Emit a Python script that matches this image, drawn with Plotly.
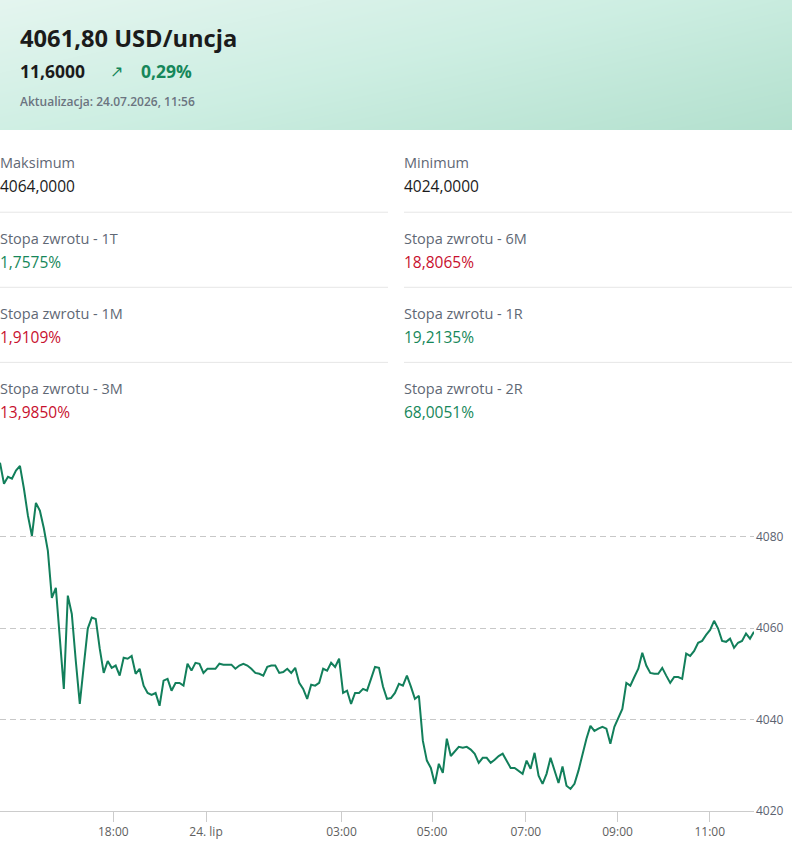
import plotly.graph_objects as go

W, H = 792, 865
SY = 1.0104  # the photographed page comes out ~1% shorter; compensate

# ── quote header ───────────────────────────────────────────────────────────
quote_price = "4061,80 USD/uncja"
quote_change = "11,6000"
quote_change_pct = "0,29%"
quote_updated = "Aktualizacja: 24.07.2026, 11:56"

# ── stats (label, value, colour key) ───────────────────────────────────────
stats_left = [
    ("Maksimum", "4064,0000", "plain"),
    ("Stopa zwrotu - 1T", "1,7575%", "up"),
    ("Stopa zwrotu - 1M", "1,9109%", "down"),
    ("Stopa zwrotu - 3M", "13,9850%", "down"),
]
stats_right = [
    ("Minimum", "4024,0000", "plain"),
    ("Stopa zwrotu - 6M", "18,8065%", "down"),
    ("Stopa zwrotu - 1R", "19,2135%", "up"),
    ("Stopa zwrotu - 2R", "68,0051%", "up"),
]

# ── intraday price, one value per sample (ordinal axis) ────────────────────
price = [
    4096.2, 4091.6, 4093.1, 4092.7, 4094.5, 4095.5, 4090.5, 4084.6, 4080.2, 4087.4,
    4085.7, 4081.8, 4076.9, 4066.6, 4068.8, 4057.7, 4046.7, 4067.1, 4063.1, 4052.8,
    4043.4, 4051.8, 4059.9, 4062.3, 4062.0, 4055.5, 4050.2, 4052.8, 4051.3, 4051.8,
    4049.6, 4053.5, 4053.3, 4053.9, 4050.0, 4051.1, 4047.4, 4045.8, 4045.4, 4045.8,
    4043.0, 4048.5, 4048.9, 4046.3, 4048.0, 4048.0, 4047.4, 4052.2, 4050.7, 4052.4,
    4052.2, 4050.2, 4051.1, 4051.1, 4051.1, 4052.2, 4052.0, 4052.0, 4052.0, 4051.1,
    4051.8, 4052.2, 4051.8, 4051.1, 4050.2, 4050.0, 4049.6, 4051.5, 4051.8, 4051.8,
    4050.2, 4050.4, 4051.1, 4050.2, 4051.3, 4048.0, 4046.7, 4044.5, 4047.6, 4047.4,
    4048.0, 4051.1, 4050.7, 4052.4, 4051.5, 4053.3, 4045.8, 4046.3, 4043.4, 4045.8,
    4045.8, 4046.7, 4046.3, 4048.9, 4051.5, 4051.3, 4047.2, 4044.5, 4044.7, 4045.8,
    4047.8, 4047.4, 4049.6, 4047.2, 4044.5, 4045.2, 4035.3, 4031.0, 4029.4, 4025.9,
    4030.3, 4028.3, 4035.8, 4032.0, 4033.1, 4034.0, 4033.8, 4034.0, 4033.4, 4032.5,
    4030.5, 4031.6, 4031.6, 4030.5, 4031.2, 4032.0, 4032.5, 4031.0, 4029.4, 4029.4,
    4028.8, 4028.1, 4031.0, 4029.2, 4032.7, 4027.7, 4025.9, 4028.1, 4031.6, 4028.8,
    4026.1, 4029.7, 4025.5, 4024.8, 4025.9, 4028.8, 4032.5, 4035.8, 4038.6, 4037.5,
    4038.0, 4038.4, 4038.0, 4034.7, 4038.4, 4040.4, 4042.3, 4048.0, 4047.4, 4049.3,
    4051.1, 4054.6, 4051.8, 4050.2, 4050.0, 4050.0, 4051.3, 4049.6, 4048.0, 4049.3,
    4049.3, 4048.9, 4054.4, 4053.9, 4055.0, 4056.8, 4057.2, 4058.5, 4059.6, 4061.6,
    4059.9, 4057.2, 4057.0, 4057.7, 4055.7, 4056.8, 4057.2, 4058.8, 4057.7, 4059.2,
]
time_labels = ["18:00", "24. lip", "03:00", "05:00", "07:00", "09:00", "11:00"]
time_label_idx = [28.4, 51.65, 85.6, 108.3, 131.8, 154.8, 177.9]
price_ticks = [4020, 4040, 4060, 4080]

GREEN = "#16875a"
RED = "#c8102e"
LINE = "#127f5b"
LABEL_GREY = "#5f6875"
FONT = "Open Sans, Noto Sans, sans-serif"


def px_x(x):
    return x / W


def px_y(y):
    return 1 - y * SY / H


fig = go.Figure()

# header gradient as a smoothed 2x2 heatmap on its own axes
fig.add_trace(
    go.Heatmap(
        z=[[0.45, 1.0], [0.0, 0.6]],
        x=[0, 1],
        y=[0, 1],
        zsmooth="best",
        colorscale=[[0, "#e4f5ef"], [0.5, "#cdeee2"], [1, "#b3e0ce"]],
        showscale=False,
        hoverinfo="skip",
        xaxis="x2",
        yaxis="y2",
    )
)

fig.add_trace(
    go.Scatter(
        x=list(range(len(price))),
        y=price,
        mode="lines",
        line=dict(color=LINE, width=2),
        showlegend=False,
        hoverinfo="y",
    )
)

ann = []
# header texts
ann.append(dict(x=px_x(18), y=px_y(38), text=f"<b>{quote_price}</b>",
                font=dict(size=23.7, color="#1b1b1b")))
ann.append(dict(x=px_x(18), y=px_y(71), text=f"<b>{quote_change}</b>",
                font=dict(size=17.5, color="#1b1b1b")))
ann.append(dict(x=px_x(108), y=px_y(71), text="↗",
                font=dict(size=16, color=GREEN)))
ann.append(dict(x=px_x(139), y=px_y(71), text=f"<b>{quote_change_pct}</b>",
                font=dict(size=17.5, color=GREEN)))
ann.append(dict(x=px_x(18), y=px_y(101), text=quote_updated,
                font=dict(size=12, color="#6b7480", weight=600)))

colour = {"plain": "#1b1b1b", "up": GREEN, "down": RED}
row_y = [162, 238, 313, 388]
for col_x, items in ((-2, stats_left), (402, stats_right)):
    for (label, value, kind), y in zip(items, row_y):
        ann.append(dict(x=px_x(col_x), y=px_y(y), text=label,
                        font=dict(size=14.5, color=LABEL_GREY)))
        ann.append(dict(x=px_x(col_x), y=px_y(y + 24), text=value,
                        font=dict(size=15.5, color=colour[kind])))

for a in ann:
    a.update(xref="paper", yref="paper", xanchor="left", yanchor="middle",
             showarrow=False)

shapes = []
for y in (212, 287, 362):
    for x0, x1 in ((0, 388), (404, 792)):
        shapes.append(dict(type="line", xref="paper", yref="paper",
                           x0=px_x(x0), x1=px_x(x1), y0=px_y(y), y1=px_y(y),
                           line=dict(color="#e6e6e6", width=1)))

fig.update_layout(
    width=W,
    height=H,
    margin=dict(l=0, r=0, t=0, b=0),
    paper_bgcolor="white",
    plot_bgcolor="white",
    font=dict(family=FONT),
    annotations=ann,
    shapes=shapes,
    showlegend=False,
    xaxis=dict(
        domain=[0, 754 / W],
        range=[0, len(price) - 1],
        tickmode="array",
        tickvals=time_label_idx,
        ticktext=time_labels,
        ticks="outside",
        ticklen=10,
        tickcolor="#cccccc",
        showline=True,
        linecolor="#cccccc",
        showgrid=False,
        zeroline=False,
        tickfont=dict(size=12, color="#606060"),
        fixedrange=True,
    ),
    yaxis=dict(
        domain=[px_y(810), px_y(454)],
        range=[4020, 4098],
        side="right",
        tickmode="array",
        tickvals=price_ticks,
        showgrid=True,
        gridcolor="#c8c8c8",
        griddash="6px,4px",
        zeroline=False,
        ticks="",
        ticklabelstandoff=1,
        tickfont=dict(size=12, color="#5b6270"),
        fixedrange=True,
    ),
    xaxis2=dict(domain=[0, 1], range=[0, 1], visible=False, fixedrange=True),
    yaxis2=dict(domain=[px_y(130), 1], range=[0, 1], visible=False,
                fixedrange=True, anchor="x2"),
)

fig.write_html(
    "out.html",
    config={"displayModeBar": False},
    post_script="document.body.style.margin='0';",
)
